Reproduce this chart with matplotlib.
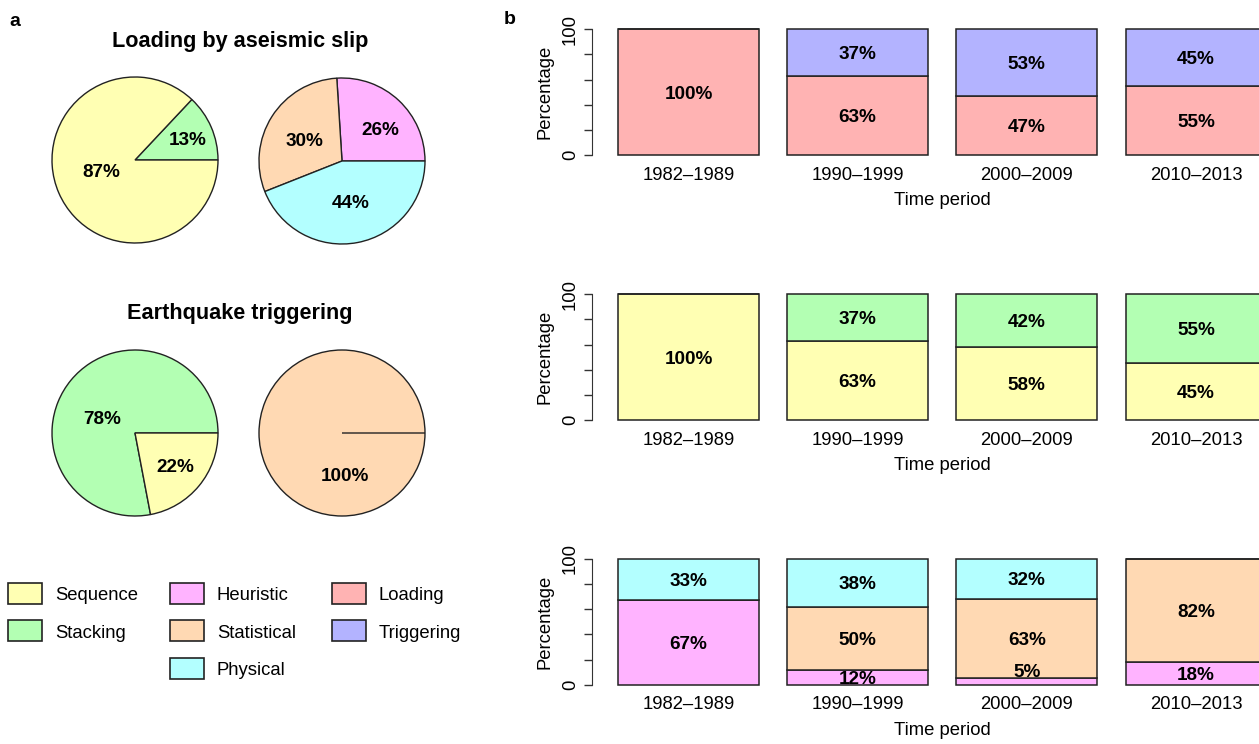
import matplotlib.pyplot as plt
from matplotlib.patches import Rectangle

plt.rcParams['font.family'] = ['Liberation Sans', 'DejaVu Sans']

periods = ['1982–1989', '1990–1999', '2000–2009', '2010–2013']

# shares per period, bottom segment first
loading = [100, 63, 47, 55]
triggering = [0, 37, 53, 45]
sequence = [100, 63, 58, 45]
stacking = [0, 37, 42, 55]
heuristic = [67, 12, 5, 18]
statistical = [0, 50, 63, 82]
physical = [33, 38, 32, 0]

# pie shares, counter-clockwise from 3 o'clock
aseismic_method = [13, 87]        # stacking, sequence
aseismic_model = [26, 30, 44]     # heuristic, statistical, physical
trigger_method = [78, 22]         # stacking, sequence
trigger_model = [0, 100, 0]       # heuristic, statistical, physical

col = {
    'Sequence': '#FFFFB3', 'Stacking': '#B3FFB3',
    'Heuristic': '#FFB3FF', 'Statistical': '#FFD9B3', 'Physical': '#B3FFFF',
    'Loading': '#FFB3B3', 'Triggering': '#B3B3FF',
}
edge = '#222222'

W, H = 1259, 744
fig = plt.figure(figsize=(W / 100, H / 100), dpi=100)


def frame(left, top, right, bottom):
    return [left / W, 1 - bottom / H, (right - left) / W, (bottom - top) / H]


# overlay in pixel units for titles, panel letters and the legend
ov = fig.add_axes([0, 0, 1, 1])
ov.set_xlim(0, W)
ov.set_ylim(H, 0)
ov.axis('off')

ov.text(15, 21, 'a', fontsize=14, fontweight='bold', ha='center', va='center')
ov.text(510, 19, 'b', fontsize=14, fontweight='bold', ha='center', va='center')
ov.text(240, 46.5, 'Loading by aseismic slip', fontsize=15.6, fontweight='bold',
        ha='center', va='baseline')
ov.text(240, 319.3, 'Earthquake triggering', fontsize=15.6, fontweight='bold',
        ha='center', va='baseline')

# ---- panel a: pies ----
pies = [
    (aseismic_method, ['Stacking', 'Sequence'], (135, 160),
     [(0.63, 0.24), (-0.40, -0.15)]),
    (aseismic_model, ['Heuristic', 'Statistical', 'Physical'], (342, 161),
     [(0.46, 0.37), (-0.45, 0.24), (0.10, -0.51)]),
    (trigger_method, ['Stacking', 'Sequence'], (135, 433),
     [(-0.39, 0.165), (0.48, -0.41)]),
    (trigger_model, ['Heuristic', 'Statistical', 'Physical'], (342, 433),
     [None, (0.04, -0.53), None]),
]
r = 83
for vals, names, (cx, cy), label_xy in pies:
    pad = 1.1 * r
    ax = fig.add_axes(frame(cx - pad, cy - pad, cx + pad, cy + pad))
    ax.pie(vals, colors=[col[n] for n in names], startangle=0, counterclock=True,
           wedgeprops=dict(edgecolor=edge, linewidth=1.0))
    ax.set_xlim(-1.1, 1.1)
    ax.set_ylim(-1.1, 1.1)
    for v, xy in zip(vals, label_xy):
        if v > 0 and xy is not None:
            ax.text(xy[0], xy[1], f'{v}%', fontsize=13.6, fontweight='bold',
                    ha='center', va='center')

# legend
legend_cols = [['Sequence', 'Stacking'],
               ['Heuristic', 'Statistical', 'Physical'],
               ['Loading', 'Triggering']]
col_x = [8.5, 170.5, 332.5]
row_y = [582.5, 620, 657.5]
for x0, names in zip(col_x, legend_cols):
    for y0, name in zip(row_y, names):
        ov.add_patch(Rectangle((x0, y0), 34, 21, facecolor=col[name],
                               edgecolor=edge, linewidth=1.2))
        ov.text(x0 + 46.5, y0 + 17.5, name, fontsize=13.3, ha='left',
                va='baseline')

# ---- panel b: stacked bars ----
rows = [
    ((29.3, 155.0), [('Loading', loading), ('Triggering', triggering)]),
    ((294.3, 420.0), [('Sequence', sequence), ('Stacking', stacking)]),
    ((559.0, 684.7), [('Heuristic', heuristic), ('Statistical', statistical),
                      ('Physical', physical)]),
]
x = [0.7 + 1.2 * i for i in range(len(periods))]
for (y100, y0), series in rows:
    u = (y0 - y100) / 100
    ax = fig.add_axes(frame(592, y100 - 4 * u, 1292.5, y0 + 4 * u))
    base = [0] * len(periods)
    for name, vals in series:
        ax.bar(x, vals, width=1, bottom=base, color=col[name],
               edgecolor=edge, linewidth=1.1)
        for xi, b, v in zip(x, base, vals):
            if v == 0:
                continue
            yl = b + v / 2 - 1.5 if v >= 10 else b + v + 5
            ax.text(xi, yl, f'{v}%', fontsize=13.6, fontweight='bold',
                    ha='center', va='center')
        base = [b + v for b, v in zip(base, vals)]
    ax.set_xlim(0.016, 4.984)
    ax.set_ylim(-4, 104)
    for s in ['top', 'right', 'bottom']:
        ax.spines[s].set_visible(False)
    ax.spines['left'].set_bounds(0, 100)
    ax.spines['left'].set_color('#333333')
    ax.set_yticks([0, 20, 40, 60, 80, 100], ['0', '', '', '', '', '100'])
    ax.tick_params(axis='y', length=5.8, width=1, color='#333333', pad=3.6,
                   labelsize=13.3, labelrotation=90)
    for lab in ax.get_yticklabels():
        lab.set_va('center')
    ax.set_xticks(x, periods)
    ax.tick_params(axis='x', length=0, pad=4.7, labelsize=13.3)
    ax.set_xlabel('Time period', fontsize=13.3, labelpad=6)
    ax.set_ylabel('Percentage', fontsize=13.3, labelpad=6.3)
    ax.patch.set_visible(False)

fig.savefig('out.png', dpi=100)
